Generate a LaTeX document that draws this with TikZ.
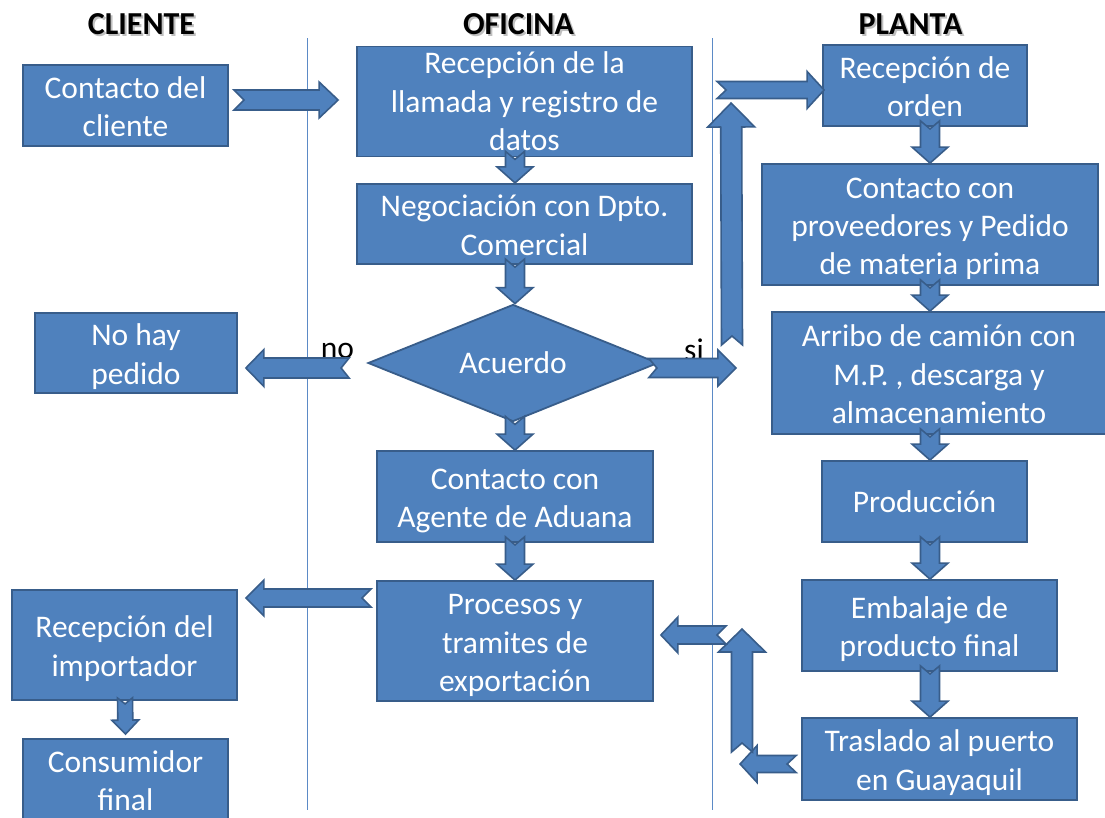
\documentclass[tikz,border=0pt]{standalone}
\usepackage{fontspec}
\setmainfont{Carlito}
\usetikzlibrary{calc,shapes.geometric}
\definecolor{bfill}{HTML}{4F81BD}
\definecolor{bdraw}{HTML}{385D8A}
\definecolor{lane}{HTML}{5B8AC6}
% strut for the first line of a multi-line box text
\newcommand{\fs}{\rule{0pt}{33pt}}
% block arrow: start, end, shaft half-width, head half-width, head length, notch depth
\newcommand{\barrow}[6]{%
  \filldraw[blockarrow] ($(#1)!#3!90:(#2)$) -- ($(#2)!#5!(#1)!#3!90:(#2)$)
    -- ($(#2)!#5!(#1)!#4!90:(#2)$) -- (#2)
    -- ($(#2)!#5!(#1)!#4!-90:(#2)$) -- ($(#2)!#5!(#1)!#3!-90:(#2)$)
    -- ($(#1)!#3!-90:(#2)$) -- ($(#1)!#6!(#2)$) -- cycle;}
\begin{document}
\begin{tikzpicture}[x=1pt,y=-1pt,
  box/.style={draw=bdraw, fill=bfill, line width=1.8pt, text=white, align=center,
    font=\fontsize{31.5}{38.4}\selectfont, inner sep=0pt},
  mbox/.style={box, execute at end node={\rule[-9pt]{0pt}{9pt}}},
  dec/.style={box, shape=diamond, aspect=2.5},
  blockarrow/.style={draw=bdraw, fill=bfill, line width=1.6pt, line join=miter},
  header/.style={font=\fontsize{32}{38}\selectfont\bfseries},
  hshadow/.style={header, text=black!25},
  lbl/.style={font=\fontsize{31.5}{38.4}\selectfont, anchor=base, inner sep=0pt},
  laneline/.style={draw=lane, line width=1pt}]
\useasboundingbox (0,0) rectangle (1105,817);
\fill[white] (0,0) rectangle (1105,817);

% lane separators
\draw[laneline] (307,38) -- (307,810);
\draw[laneline] (712,38) -- (712,810);

% headers
\node[hshadow] at (143.5,26.5) {CLIENTE};
\node[hshadow] at (520.5,26.5) {OFICINA};
\node[hshadow] at (912.5,26.5) {PLANTA};
\node[header] (hcli) at (141.5,24.5) {CLIENTE};
\node[header] (hofi) at (518.5,24.5) {OFICINA};
\node[header] (hpla) at (910.5,24.5) {PLANTA};

% boxes
\node[mbox, minimum width=205pt, minimum height=81pt] (cliente) at (125.5,105.5) {\fs Contacto del\\cliente};
\node[box, minimum width=335pt, minimum height=110pt] (llamada) at (524.5,101.5) {Recepción de la\\llamada y registro de\\datos};
\node[mbox, minimum width=335pt, minimum height=80pt] (negoc) at (524.5,224) {\fs Negociación con Dpto.\\Comercial};
\node[dec, minimum width=290pt, minimum height=117pt] (acuerdo) at (513,363) {Acuerdo};
\node[mbox, minimum width=202pt, minimum height=80pt] (nohay) at (136,353) {\fs No hay\\pedido};
\node[mbox, minimum width=276pt, minimum height=91pt] (agente) at (515,496.5) {\fs Contacto con\\Agente de Aduana};
\node[mbox, minimum width=276pt, minimum height=120pt] (procesos) at (515,641) {\fs Procesos y\\tramites de\\exportación};
\node[mbox, minimum width=225pt, minimum height=110pt] (importador) at (124.5,645) {\fs Recepción del\\importador};
\node[mbox, minimum width=205pt, minimum height=81pt] (consumidor) at (125.5,779.5) {\fs Consumidor\\final};
\node[mbox, minimum width=204pt, minimum height=81pt] (orden) at (925,85.5) {\fs Recepción de\\orden};
\node[mbox, minimum width=336pt, minimum height=121pt] (proveedores) at (930,224.5) {\fs Contacto con\\proveedores y Pedido\\de materia prima};
\node[mbox, minimum width=334pt, minimum height=122pt] (arribo) at (939,373) {\fs Arribo de camión con\\M.P. , descarga y\\almacenamiento};
\node[box, minimum width=205pt, minimum height=81pt] (produccion) at (924.5,501.5) {Producción};
\node[mbox, minimum width=255pt, minimum height=91pt] (embalaje) at (929.5,625.5) {\fs Embalaje de\\producto final};
\node[mbox, minimum width=275pt, minimum height=82pt] (traslado) at (939.5,759) {\fs Traslado al puerto\\en Guayaquil};

% labels
\node[lbl] (no) at (337.5,358) {no};
\node[lbl] (si) at (694,360) {si};

% arrow end points
\coordinate (a1s) at ($(cliente.east)+(5,-5.5)$);
\coordinate (a1e) at ($(llamada.west)+(-18,-1.5)$);
\coordinate (a2s) at ($(llamada.south -| acuerdo)+(2,-6)$);
\coordinate (a2e) at ($(negoc.north -| acuerdo)+(2,0)$);
\coordinate (a3s) at ($(negoc.south -| acuerdo)+(2,-6)$);
\coordinate (a3e) at ($(acuerdo.north)+(2,0)$);
\coordinate (a4s) at ($(acuerdo.south)+(2,-6)$);
\coordinate (a4e) at ($(agente.north)+(0,0)$);
\coordinate (a5s) at ($(agente.south)+(0,-6)$);
\coordinate (a5e) at ($(procesos.north)+(0,0)$);
\coordinate (a6s) at ($(acuerdo.west)+(-18,5)$);
\coordinate (a6e) at ($(nohay.east)+(8,15)$);
\coordinate (a7s) at ($(acuerdo.east)+(-10,5)$);
\coordinate (a7e) at ($(acuerdo.east)+(77,5)$);
\coordinate (a8s) at (732,345);
\coordinate (a8e) at ($(orden.west)+(-91,17.5)$);
\coordinate (a9s) at ($(orden.west)+(-105,4.5)$);
\coordinate (a9e) at ($(orden.west)+(2,4.5)$);
\coordinate (a10s) at ($(orden.south -| proveedores)+(0,-6)$);
\coordinate (a10e) at (proveedores.north);
\coordinate (a11s) at ($(proveedores.south)+(0,-6)$);
\coordinate (a11e) at (arribo.north -| proveedores);
\coordinate (a12s) at ($(arribo.south -| proveedores)+(0,-6)$);
\coordinate (a12e) at (produccion.north -| proveedores);
\coordinate (a13s) at ($(produccion.south -| proveedores)+(0,-6)$);
\coordinate (a13e) at (embalaje.north -| proveedores);
\coordinate (a14s) at ($(embalaje.south -| proveedores)+(0,-6)$);
\coordinate (a14e) at (traslado.north -| proveedores);
\coordinate (a15s) at ($(traslado.west)+(-5,5)$);
\coordinate (a15e) at ($(traslado.west)+(-61,5)$);
\coordinate (a16s) at (742,752);
\coordinate (a16e) at (742,629);
\coordinate (a17s) at ($(procesos.east)+(72,-6)$);
\coordinate (a17e) at ($(procesos.east)+(7,-6)$);
\coordinate (a18s) at ($(procesos.west)+(-5,-43)$);
\coordinate (a18e) at ($(importador.east)+(8,-47)$);
\coordinate (a19s) at ($(importador.south)+(0.5,-3)$);
\coordinate (a19e) at ($(consumidor.north)+(0,-4)$);

% block arrows
\barrow{a1s}{a1e}{10pt}{18pt}{19pt}{10pt}
\barrow{a2s}{a2e}{9.5pt}{18pt}{16pt}{8pt}
\barrow{a3s}{a3e}{9.5pt}{18pt}{16pt}{8pt}
\barrow{a4s}{a4e}{9.5pt}{18pt}{16pt}{8pt}
\barrow{a5s}{a5e}{9.5pt}{18pt}{16pt}{8pt}
\barrow{a6s}{a6e}{10pt}{18.5pt}{18pt}{8pt}
\barrow{a7s}{a7e}{9.5pt}{18pt}{18pt}{8pt}
\barrow{a8s}{a8e}{10.5pt}{23.5pt}{24pt}{9pt}
\barrow{a9s}{a9e}{8.5pt}{18.5pt}{17pt}{9pt}
\barrow{a10s}{a10e}{9.5pt}{18pt}{16pt}{8pt}
\barrow{a11s}{a11e}{9.5pt}{18pt}{16pt}{8pt}
\barrow{a12s}{a12e}{9.5pt}{18pt}{16pt}{8pt}
\barrow{a13s}{a13e}{9.5pt}{18pt}{16pt}{8pt}
\barrow{a14s}{a14e}{9.5pt}{18pt}{16pt}{8pt}
\barrow{a15s}{a15e}{8.5pt}{18.5pt}{17pt}{9pt}
\barrow{a16s}{a16e}{10.5pt}{23.5pt}{23pt}{9pt}
\barrow{a17s}{a17e}{9pt}{18pt}{17pt}{9pt}
\barrow{a18s}{a18e}{9pt}{18pt}{18pt}{9pt}
\barrow{a19s}{a19e}{7.5pt}{13.5pt}{14pt}{6pt}
\end{tikzpicture}
\end{document}
